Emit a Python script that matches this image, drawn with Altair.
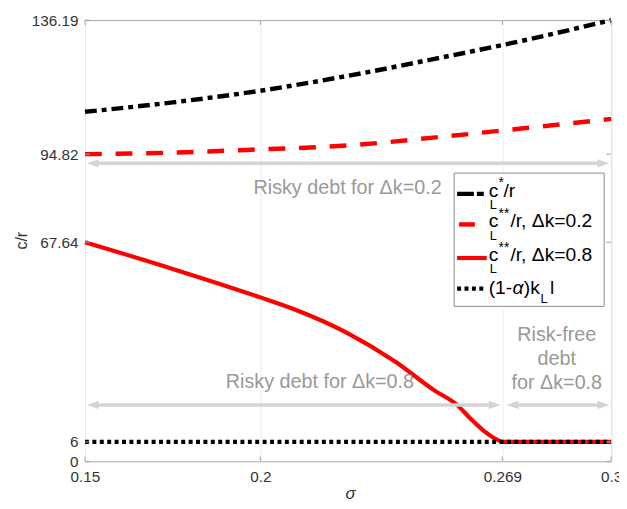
import altair as alt
import pandas as pd

# ---------------- data ----------------
sigma_star = [0.15, 0.175, 0.2, 0.225, 0.25, 0.275, 0.3]
c_star_r = [107.9, 110.8, 114.4, 119.0, 124.3, 129.9, 136.19]

sigma_02 = [0.15, 0.175, 0.2, 0.225, 0.25, 0.275, 0.3]
c_ss_02 = [94.82, 95.3, 96.3, 97.5, 100.0, 102.8, 105.7]

sigma_08 = [0.15, 0.175, 0.2, 0.21, 0.2243, 0.2384, 0.2496, 0.2561, 0.26, 0.2637, 0.2665, 0.2693, 0.3]
c_ss_08 = [67.64, 59.4, 50.6, 46.8, 39.9, 30.8, 21.9, 17.4, 13.1, 9.4, 7.3, 6.0, 6.0]

sigma_floor = [0.15, 0.3]
floor_vals = [6, 6]

x_ticks = [0.15, 0.2, 0.269, 0.3]
y_ticks = [0, 6, 67.64, 94.82, 136.19]

arrow_y = [92.0, 17.4, 17.4]
arrow_from = [0.1505, 0.1505, 0.2702]
arrow_to = [0.2995, 0.2685, 0.2995]

# ---------------- layout / style ----------------
W, H = 533, 447
FONT = "Liberation Sans"
AX = "#a6a6a6"
TXT = "#333333"
ANN = "#999999"
ARR = "#d4d4d4"

xscale = alt.Scale(domain=[0.15, 0.3], nice=False, zero=False)
yscale = alt.Scale(domain=[0, 136.19], nice=False, zero=False)

x_axis = alt.Axis(values=x_ticks, format=".3~f", title="σ", grid=True, gridColor="#ebebeb",
                  ticks=False, tickSize=0, domain=False, labelFlush=False, labelBound=False,
                  labelOverlap=False, labelPadding=8, labelFontSize=15.5, labelColor=TXT,
                  labelFont=FONT, titleFont=FONT, titleFontStyle="italic", titleFontWeight="normal",
                  titleFontSize=17, titleColor=TXT, titleX=W / 2 + 2, titleY=38,
                  titleBaseline="alphabetic", titleAlign="center")
y_axis = alt.Axis(values=y_ticks, format=".2~f", title="c/r", grid=False, ticks=False, tickSize=0,
                  domain=False, labelPadding=7, labelFontSize=15.5, labelColor=TXT, labelFont=FONT,
                  labelOverlap=False, labelFlush=False, labelBound=False, titleFont=FONT,
                  titleFontWeight="normal", titleFontSize=16, titleColor=TXT, titleAngle=270,
                  titleX=-64, titleY=223, titleAlign="center", titleBaseline="middle")


def X(field="sigma"):
    return alt.X(f"{field}:Q", scale=xscale, axis=x_axis)


def Y(field="v"):
    return alt.Y(f"{field}:Q", scale=yscale, axis=y_axis)


def curve(s, v, color, width, dash=None):
    df = pd.DataFrame({"sigma": s, "v": v})
    kw = dict(color=color, strokeWidth=width, interpolate="monotone", strokeCap="butt")
    if dash:
        kw["strokeDash"] = dash
    return alt.Chart(df).mark_line(**kw).encode(x=X(), y=Y())


one = alt.Data(values=[{"k": 1}])


def ptxt(s, x, y, size, color="#000000", style="normal", align="left", baseline="alphabetic"):
    return alt.Chart(one).mark_text(fontSize=size, font=FONT, color=color, align=align,
                                    baseline=baseline, fontStyle=style).encode(
        x=alt.value(x), y=alt.value(y), text=alt.value(s))


def prule(x1, x2, y, color, width, dash=None):
    kw = dict(color=color, strokeWidth=width, strokeCap="butt")
    if dash:
        kw["strokeDash"] = dash
    return alt.Chart(one).mark_rule(**kw).encode(x=alt.value(x1), x2=alt.value(x2), y=alt.value(y))


layers = []
# curves
layers.append(curve(sigma_star, c_star_r, "#000000", 4.5, [12, 5, 5, 5]))
layers.append(curve(sigma_02, c_ss_02, "#ff0000", 4.5, [17, 14]))
layers.append(curve(sigma_08, c_ss_08, "#ff0000", 4.2))
layers.append(curve(sigma_floor, floor_vals, "#000000", 4.2, [4, 3.5]))

# arrows
inset = 8 * 0.15 / W
shaft = pd.DataFrame({"sigma": [a + inset for a in arrow_from],
                      "sigma2": [b - inset for b in arrow_to], "v": arrow_y})
layers.append(alt.Chart(shaft).mark_rule(color=ARR, strokeWidth=3.5).encode(
    x=X(), x2=alt.X2("sigma2:Q"), y=Y()))
lh = pd.DataFrame({"sigma": arrow_from, "v": arrow_y})
rh = pd.DataFrame({"sigma": arrow_to, "v": arrow_y})
layers.append(alt.Chart(lh).mark_point(shape="M0,0L2,-0.7L2,0.7Z", filled=True, size=144,
                                       color=ARR, opacity=1).encode(x=X(), y=Y()))
layers.append(alt.Chart(rh).mark_point(shape="M0,0L-2,-0.7L-2,0.7Z", filled=True, size=144,
                                       color=ARR, opacity=1).encode(x=X(), y=Y()))

# annotation texts
AS = 20
layers.append(ptxt("Risky debt for Δk=0.2", 266, 170, AS, ANN, align="center", baseline="middle"))
layers.append(ptxt("Risky debt for Δk=0.8", 238, 367, AS, ANN, align="center", baseline="middle"))
layers.append(ptxt("Risk-free", 478, 319, AS, ANN, align="center", baseline="middle"))
layers.append(ptxt("debt", 478, 343.5, AS, ANN, align="center", baseline="middle"))
layers.append(ptxt("for Δk=0.8", 478, 368, AS, ANN, align="center", baseline="middle"))

# legend box
layers.append(alt.Chart(one).mark_rect(fill="#ffffff", stroke="#8a8a8a", strokeWidth=1).encode(
    x=alt.value(374), x2=alt.value(526), y=alt.value(155), y2=alt.value(290)))
# legend samples
layers.append(prule(377, 405, 176, "#000000", 4.5, [17, 3, 7, 3]))
layers.append(prule(379, 395, 207, "#ff0000", 4.5))
layers.append(prule(377, 407, 241, "#ff0000", 4.2))
layers.append(prule(377, 407, 272, "#000000", 4.2, [4, 3.5]))
# legend labels
LS, SUP, SUB = 19.5, 14, 13
rows = [(179, "*", "/r", 424), (210, "**", "/r, Δk=0.2", 431), (244, "**", "/r, Δk=0.8", 431)]
for base, sup, rest, rx in rows:
    layers.append(ptxt("c", 409, base, LS))
    layers.append(ptxt("L", 410, base + 12.5, SUB))
    layers.append(ptxt(sup, 419, base - 9.5, SUP))
    layers.append(ptxt(rest, rx, base, LS))
layers.append(ptxt("(1-", 409, 277, LS))
layers.append(ptxt("α", 433, 277, LS, style="italic"))
layers.append(ptxt(")k", 444.5, 277, LS))
layers.append(ptxt("L", 461.5, 287, SUB))
layers.append(ptxt("l", 471, 277, LS))

# inward ticks
xt = pd.DataFrame({"sigma": x_ticks})
yt = pd.DataFrame({"v": y_ticks})
layers.append(alt.Chart(xt).mark_rule(color=AX, strokeWidth=1).encode(
    x=X(), y=alt.value(H), y2=alt.value(H - 5)))
layers.append(alt.Chart(xt).mark_rule(color=AX, strokeWidth=1).encode(
    x=X(), y=alt.value(0), y2=alt.value(5)))
layers.append(alt.Chart(yt).mark_rule(color=AX, strokeWidth=1).encode(
    y=Y(), x=alt.value(0), x2=alt.value(5)))
layers.append(alt.Chart(yt).mark_rule(color=AX, strokeWidth=1).encode(
    y=Y(), x=alt.value(W - 5), x2=alt.value(W)))

chart = alt.layer(*layers).properties(
    width=W, height=H,
    padding={"left": 78, "top": 9, "right": 8, "bottom": 45},
    autosize=alt.AutoSizeParams(type="none"),
    background="#ffffff",
).configure_view(stroke=AX, strokeWidth=1)

chart.save("out.html", embed_options={"renderer": "svg", "actions": False})
